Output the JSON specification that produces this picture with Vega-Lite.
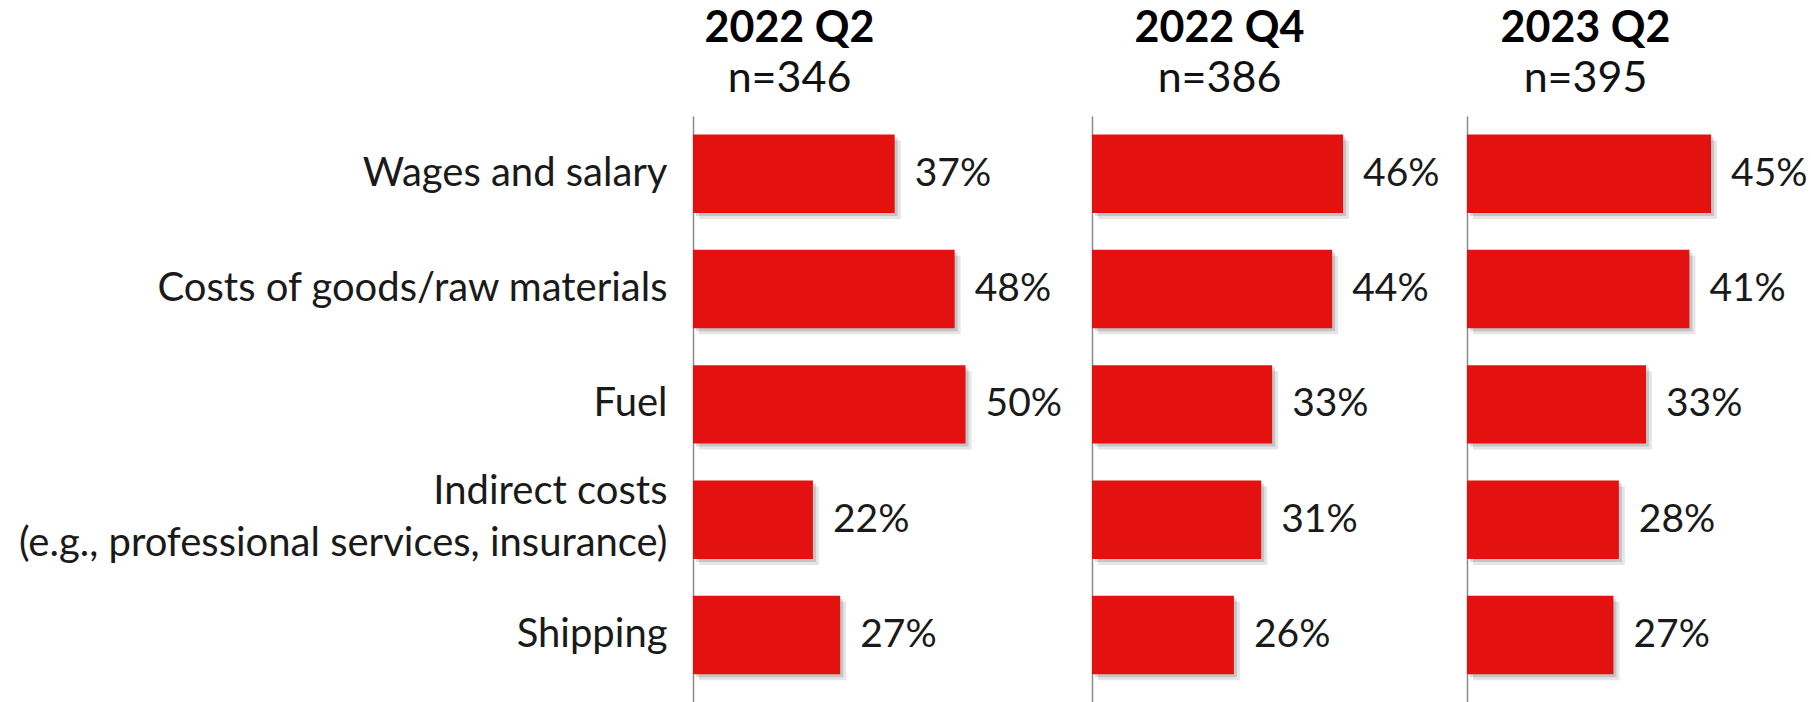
{
  "$schema": "https://vega.github.io/schema/vega-lite/v6.json",
  "background": "white",
  "padding": {"left": 5, "top": 8, "right": 0, "bottom": 0},
  "spacing": 0,
  "config": {
    "view": {"stroke": null},
    "font": "Lato",
    "title": {"font": "Lato", "fontSize": 43, "fontWeight": "bold", "color": "#000000", "subtitleFont": "Lato", "subtitleFontSize": 43, "subtitleColor": "#111111", "subtitlePadding": 7, "offset": 15, "anchor": "middle", "frame": "group"}
  },
  "data": {
    "values": [
      {"period": "2022 Q2", "item": "Wages and salary", "value": 0.37},
      {"period": "2022 Q2", "item": "Costs of goods/raw materials", "value": 0.48},
      {"period": "2022 Q2", "item": "Fuel", "value": 0.50},
      {"period": "2022 Q2", "item": "Indirect costs\n(e.g., professional services, insurance)", "value": 0.22},
      {"period": "2022 Q2", "item": "Shipping", "value": 0.27},
      {"period": "2022 Q4", "item": "Wages and salary", "value": 0.46},
      {"period": "2022 Q4", "item": "Costs of goods/raw materials", "value": 0.44},
      {"period": "2022 Q4", "item": "Fuel", "value": 0.33},
      {"period": "2022 Q4", "item": "Indirect costs\n(e.g., professional services, insurance)", "value": 0.31},
      {"period": "2022 Q4", "item": "Shipping", "value": 0.26},
      {"period": "2023 Q2", "item": "Wages and salary", "value": 0.45},
      {"period": "2023 Q2", "item": "Costs of goods/raw materials", "value": 0.41},
      {"period": "2023 Q2", "item": "Fuel", "value": 0.33},
      {"period": "2023 Q2", "item": "Indirect costs\n(e.g., professional services, insurance)", "value": 0.28},
      {"period": "2023 Q2", "item": "Shipping", "value": 0.27}
    ]
  },
  "hconcat": [
    {
      "width": 399,
      "height": 586,
      "title": {"text": "2022 Q2", "subtitle": "n=346", "dx": -103},
      "transform": [{"filter": "datum.period == '2022 Q2'"}],
      "encoding": {
        "y": {"field": "item", "type": "nominal", "sort": null,
          "scale": {"paddingInner": 0.32, "paddingOuter": 0.2, "align": 0.4},
          "axis": {"title": null, "ticks": false, "domainColor": "#8c8c8c", "domainWidth": 1.5, "labelFont": "Lato", "labelFontSize": 40, "labelColor": "#1a1a1a", "labelPadding": 26, "labelLimit": 900, "minExtent": 688, "maxExtent": 688, "labelExpr": "split(datum.label, '\\n')", "labelLineHeight": 52,
            "labelOffset": {"condition": {"test": "indexof(datum.label, '\\n') >= 0", "value": -28}, "value": 0}}},
        "x": {"field": "value", "type": "quantitative", "scale": {"domain": [0, 0.732], "nice": false}, "axis": null}
      },
      "layer": [
        {"mark": {"type": "bar", "color": "#000000", "opacity": 0.10, "xOffset": 6, "yOffset": 6}},
        {"mark": {"type": "bar", "color": "#000000", "opacity": 0.14, "xOffset": 3, "yOffset": 3}},
        {"mark": {"type": "bar", "color": "#E41111"}},
        {"mark": {"type": "text", "align": "left", "baseline": "middle", "dx": 20, "fontSize": 39, "font": "Lato", "color": "#1a1a1a"},
          "encoding": {"text": {"field": "value", "type": "quantitative", "format": ".0%"}}}
      ]
    },
    {
      "width": 375,
      "height": 586,
      "title": {"text": "2022 Q4", "subtitle": "n=386", "dx": -60},
      "transform": [{"filter": "datum.period == '2022 Q4'"}],
      "encoding": {
        "y": {"field": "item", "type": "nominal", "sort": null,
          "scale": {"paddingInner": 0.32, "paddingOuter": 0.2, "align": 0.4},
          "axis": {"title": null, "ticks": false, "labels": false, "domainColor": "#8c8c8c", "domainWidth": 1.5, "minExtent": 0, "maxExtent": 0}},
        "x": {"field": "value", "type": "quantitative", "scale": {"domain": [0, 0.687], "nice": false}, "axis": null}
      },
      "layer": [
        {"mark": {"type": "bar", "color": "#000000", "opacity": 0.10, "xOffset": 6, "yOffset": 6}},
        {"mark": {"type": "bar", "color": "#000000", "opacity": 0.14, "xOffset": 3, "yOffset": 3}},
        {"mark": {"type": "bar", "color": "#E41111"}},
        {"mark": {"type": "text", "align": "left", "baseline": "middle", "dx": 20, "fontSize": 39, "font": "Lato", "color": "#1a1a1a"},
          "encoding": {"text": {"field": "value", "type": "quantitative", "format": ".0%"}}}
      ]
    },
    {
      "width": 339,
      "height": 586,
      "title": {"text": "2023 Q2", "subtitle": "n=395", "dx": -51},
      "transform": [{"filter": "datum.period == '2023 Q2'"}],
      "encoding": {
        "y": {"field": "item", "type": "nominal", "sort": null,
          "scale": {"paddingInner": 0.32, "paddingOuter": 0.2, "align": 0.4},
          "axis": {"title": null, "ticks": false, "labels": false, "domainColor": "#8c8c8c", "domainWidth": 1.5, "minExtent": 0, "maxExtent": 0}},
        "x": {"field": "value", "type": "quantitative", "scale": {"domain": [0, 0.625], "nice": false}, "axis": null}
      },
      "layer": [
        {"mark": {"type": "bar", "color": "#000000", "opacity": 0.10, "xOffset": 6, "yOffset": 6}},
        {"mark": {"type": "bar", "color": "#000000", "opacity": 0.14, "xOffset": 3, "yOffset": 3}},
        {"mark": {"type": "bar", "color": "#E41111"}},
        {"mark": {"type": "text", "align": "left", "baseline": "middle", "dx": 20, "fontSize": 39, "font": "Lato", "color": "#1a1a1a"},
          "encoding": {"text": {"field": "value", "type": "quantitative", "format": ".0%"}}}
      ]
    }
  ]
}
